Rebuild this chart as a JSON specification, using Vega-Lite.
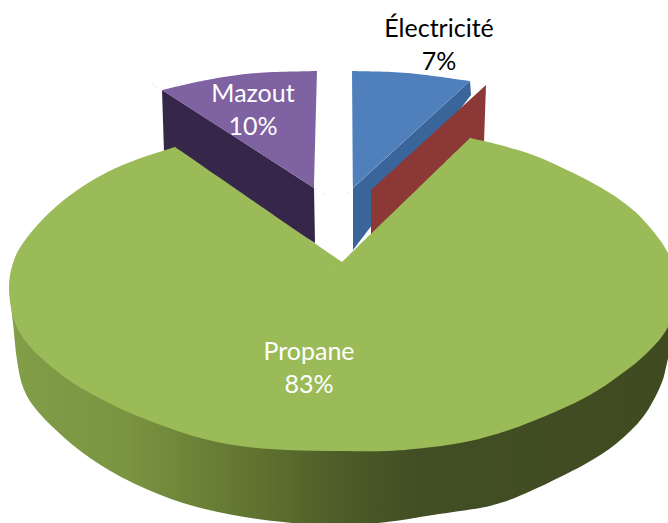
{"$schema":"https://vega.github.io/schema/vega-lite/v6.json","width":668,"height":523,"padding":0,"autosize":{"type":"fit","contains":"padding"},"background":"white","view":{"stroke":null},
"config":{"axis":{"domain":false}},
"encoding":{"x":{"field":"x","type":"quantitative","scale":{"domain":[0,668],"nice":false,"zero":false},"axis":null},"y":{"field":"y","type":"quantitative","scale":{"domain":[523,0],"nice":false,"zero":false},"axis":null},"order":{"field":"i","type":"quantitative"}},
"layer":[
{"data":{"values":[{"i":1,"x":162,"y":90},{"i":2,"x":314,"y":188},{"i":3,"x":315,"y":243},{"i":4,"x":164,"y":152}]},"mark":{"type":"line","fill":"#35264a","strokeWidth":0,"interpolate":"linear","clip":true}},
{"data":{"values":[{"i":1,"x":162,"y":90},{"i":2,"x":162,"y":90},{"i":3,"x":162,"y":90},{"i":4,"x":207,"y":80},{"i":5,"x":257,"y":73},{"i":6,"x":317,"y":71},{"i":7,"x":317,"y":71},{"i":8,"x":317,"y":71},{"i":9,"x":314,"y":188},{"i":10,"x":314,"y":188},{"i":11,"x":314,"y":188},{"i":12,"x":162,"y":90},{"i":13,"x":162,"y":90}]},"mark":{"type":"line","fill":"#7f62a1","strokeWidth":0,"interpolate":"cardinal","clip":true}},
{"data":{"values":[{"i":1,"x":470,"y":81},{"i":2,"x":471,"y":95},{"i":3,"x":353,"y":250},{"i":4,"x":353,"y":188}]},"mark":{"type":"line","fill":"#3a659b","strokeWidth":0,"interpolate":"linear","clip":true}},
{"data":{"values":[{"i":1,"x":352,"y":71},{"i":2,"x":352,"y":71},{"i":3,"x":352,"y":71},{"i":4,"x":407,"y":73},{"i":5,"x":470,"y":81},{"i":6,"x":470,"y":81},{"i":7,"x":470,"y":81},{"i":8,"x":353,"y":188},{"i":9,"x":353,"y":188},{"i":10,"x":353,"y":188},{"i":11,"x":352,"y":71},{"i":12,"x":352,"y":71}]},"mark":{"type":"line","fill":"#4f80bc","strokeWidth":0,"interpolate":"cardinal","clip":true}},
{"data":{"values":[{"i":1,"x":371,"y":190},{"i":2,"x":486,"y":85},{"i":3,"x":484,"y":142},{"i":4,"x":371,"y":235}]},"mark":{"type":"line","fill":"#8c3836","strokeWidth":0,"interpolate":"linear","clip":true}},
{"data":{"values":[{"i":1,"x":340,"y":290},{"i":2,"x":340,"y":290},{"i":3,"x":340,"y":290},{"i":4,"x":9,"y":288},{"i":5,"x":9,"y":288},{"i":6,"x":9,"y":288},{"i":7,"x":13,"y":323},{"i":8,"x":17,"y":360},{"i":9,"x":23,"y":387},{"i":10,"x":35,"y":408},{"i":11,"x":58,"y":432},{"i":12,"x":90,"y":458},{"i":13,"x":133,"y":483},{"i":14,"x":183,"y":503},{"i":15,"x":233,"y":515},{"i":16,"x":283,"y":522},{"i":17,"x":335,"y":526},{"i":18,"x":387,"y":522},{"i":19,"x":433,"y":515},{"i":20,"x":480,"y":508},{"i":21,"x":500,"y":503},{"i":22,"x":517,"y":497},{"i":23,"x":550,"y":482},{"i":24,"x":587,"y":463},{"i":25,"x":617,"y":443},{"i":26,"x":643,"y":417},{"i":27,"x":660,"y":387},{"i":28,"x":667,"y":363},{"i":29,"x":680,"y":300},{"i":30,"x":680,"y":300},{"i":31,"x":680,"y":300},{"i":32,"x":340,"y":290},{"i":33,"x":340,"y":290}]},"mark":{"type":"line","strokeWidth":0,"interpolate":"cardinal","clip":true,"fill":{"gradient":"linear","x1":0,"y1":0,"x2":1,"y2":0,"stops":[{"offset":0,"color":"#84a04a"},{"offset":0.2,"color":"#7a9441"},{"offset":0.38,"color":"#5f722f"},{"offset":0.5,"color":"#4c5c28"},{"offset":0.6,"color":"#424e23"},{"offset":1,"color":"#3f4a21"}]}}},
{"data":{"values":[{"i":1,"x":342,"y":262},{"i":2,"x":342,"y":262},{"i":3,"x":342,"y":262},{"i":4,"x":175,"y":147},{"i":5,"x":175,"y":147},{"i":6,"x":175,"y":147},{"i":7,"x":133,"y":161},{"i":8,"x":100,"y":176},{"i":9,"x":69,"y":196},{"i":10,"x":43,"y":219},{"i":11,"x":23,"y":243},{"i":12,"x":13,"y":263},{"i":13,"x":9,"y":288},{"i":14,"x":14,"y":320},{"i":15,"x":27,"y":343},{"i":16,"x":47,"y":363},{"i":17,"x":73,"y":383},{"i":18,"x":107,"y":402},{"i":19,"x":140,"y":417},{"i":20,"x":193,"y":436},{"i":21,"x":240,"y":446},{"i":22,"x":287,"y":450},{"i":23,"x":340,"y":451},{"i":24,"x":387,"y":451},{"i":25,"x":433,"y":447},{"i":26,"x":470,"y":441},{"i":27,"x":500,"y":433},{"i":28,"x":523,"y":425},{"i":29,"x":557,"y":411},{"i":30,"x":590,"y":395},{"i":31,"x":620,"y":375},{"i":32,"x":647,"y":353},{"i":33,"x":668,"y":327},{"i":34,"x":680,"y":290},{"i":35,"x":668,"y":253},{"i":36,"x":647,"y":224},{"i":37,"x":627,"y":205},{"i":38,"x":600,"y":187},{"i":39,"x":567,"y":170},{"i":40,"x":533,"y":155},{"i":41,"x":500,"y":145},{"i":42,"x":470,"y":138},{"i":43,"x":470,"y":138},{"i":44,"x":470,"y":138},{"i":45,"x":342,"y":262},{"i":46,"x":342,"y":262}]},"mark":{"type":"line","fill":"#9bbb59","strokeWidth":0,"interpolate":"cardinal","clip":true}},
{"data":{"values":[{"label":"Électricité\n7%","share":7,"x":439,"y":29,"ink":"black"},{"label":"Mazout\n10%","share":10,"x":253,"y":94,"ink":"white"},{"label":"Propane\n83%","share":83,"x":309,"y":352,"ink":"white"}]},"mark":{"type":"text","font":"Lato","fontSize":25,"lineBreak":"\n","lineHeight":33,"align":"center","baseline":"middle"},"encoding":{"text":{"field":"label"},"color":{"field":"ink","type":"nominal","scale":null},"order":{"value":null}}}
]}
